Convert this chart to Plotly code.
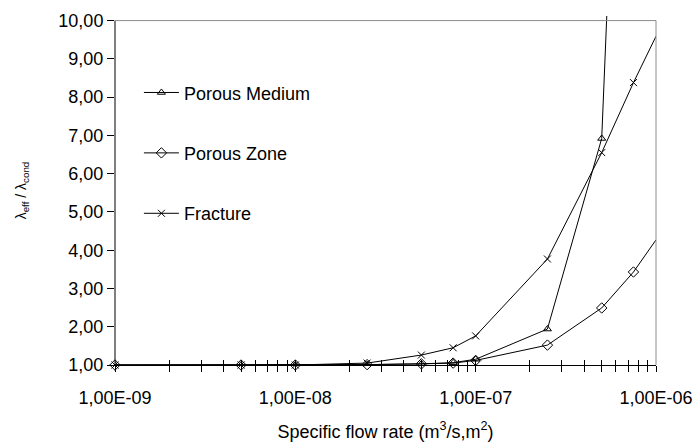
import plotly.graph_objects as go

# Specific flow rate (m3/s,m2) and effective/conductive conductivity ratio
flow_rate = [1e-9, 5e-9, 1e-8, 2.5e-8, 5e-8, 7.5e-8, 1e-7, 2.5e-7, 5e-7, 7.5e-7, 1e-6]

porous_medium_x = [1e-9, 5e-9, 1e-8, 2.5e-8, 5e-8, 7.5e-8, 1e-7, 2.5e-7, 5e-7, 7.5e-7]
porous_medium_y = [1.00, 1.00, 1.00, 1.01, 1.03, 1.06, 1.15, 1.94, 6.92, 27.0]

porous_zone_y = [1.00, 1.00, 1.00, 1.01, 1.03, 1.05, 1.12, 1.52, 2.49, 3.43, 4.27]
fracture_y = [1.00, 1.00, 1.00, 1.05, 1.26, 1.45, 1.76, 3.77, 6.55, 8.38, 9.59]

y_ticks = [1, 2, 3, 4, 5, 6, 7, 8, 9, 10]
y_tick_text = ["1,00", "2,00", "3,00", "4,00", "5,00", "6,00", "7,00", "8,00", "9,00", "10,00"]
decades = [-9, -8, -7]
decade_labels = ["1,00E-09", "1,00E-08", "1,00E-07", "1,00E-06"]

x_ticks, x_tick_text = [], []
for i, e in enumerate(decades):
    for k in range(1, 10):
        x_ticks.append(k * 10.0 ** e)
        x_tick_text.append(decade_labels[i] if k == 1 else "")
x_ticks.append(1e-6)
x_tick_text.append(decade_labels[-1])

FONT = "Liberation Sans, Arial, sans-serif"
line_style = dict(color="black", width=1)

fig = go.Figure()
fig.add_trace(go.Scatter(
    x=porous_medium_x, y=porous_medium_y, name="Porous Medium", mode="lines+markers",
    line=line_style, legendgroup="a",
    marker=dict(symbol="triangle-up-open", size=7, color="black", line=dict(width=1)),
    cliponaxis=True,
))
fig.add_trace(go.Scatter(
    x=flow_rate, y=porous_zone_y, name="Porous Zone", mode="lines+markers",
    line=line_style, legendgroup="b",
    marker=dict(symbol="diamond-open", size=8, color="black", line=dict(width=1)),
    cliponaxis=False,
))
fig.add_trace(go.Scatter(
    x=flow_rate, y=fracture_y, name="Fracture", mode="lines+markers",
    line=line_style, legendgroup="c",
    marker=dict(symbol="x-thin-open", size=7, color="black", line=dict(width=1)),
    cliponaxis=False,
))
# empty trace carrying the inner half of the crossing x ticks
fig.add_trace(go.Scatter(x=[], y=[], xaxis="x2", showlegend=False, hoverinfo="skip"))

fig.update_layout(
    width=699, height=442,
    margin=dict(l=115, r=43, t=16, b=77, autoexpand=False),
    paper_bgcolor="white", plot_bgcolor="white",
    font=dict(family=FONT, size=18, color="black"),
    showlegend=True,
    legend=dict(x=0.0442, y=0.833, xanchor="left", yanchor="top",
                bgcolor="rgba(0,0,0,0)", font=dict(size=18),
                tracegroupgap=34, itemwidth=35),
    xaxis=dict(
        type="log", range=[-9, -6], automargin=False,
        tickmode="array", tickvals=x_ticks, ticktext=x_tick_text,
        ticks="outside", ticklen=6, tickcolor="black", tickwidth=1,
        ticklabelstandoff=10,
        showline=True, linecolor="black", linewidth=1,
        showgrid=False, zeroline=False,
        tickfont=dict(size=18),
        title=dict(text="Specific flow rate (m<sup>3</sup>/s,m<sup>2</sup>)",
                   font=dict(size=18), standoff=22),
    ),
    xaxis2=dict(
        type="log", range=[-9, -6], overlaying="x", matches="x",
        tickmode="array", tickvals=x_ticks, ticktext=["" for _ in x_ticks],
        ticks="inside", ticklen=5, tickcolor="black", tickwidth=1,
        showline=False, showgrid=False, zeroline=False, side="bottom",
    ),
    yaxis=dict(
        range=[1, 10.12], automargin=False,
        tickmode="array", tickvals=y_ticks, ticktext=y_tick_text,
        ticks="outside", ticklen=7, tickcolor="black", tickwidth=1,
        showline=False, showgrid=False, zeroline=False,
        tickfont=dict(size=18),
        title=dict(text="λ<sub>eff</sub> / λ<sub>cond</sub>", font=dict(size=14), standoff=28),
    ),
    shapes=[
        dict(type="line", xref="x domain", yref="y", x0=0, x1=0, y0=1, y1=10,
             line=dict(color="black", width=1)),
        dict(type="line", xref="x domain", yref="y", x0=0, x1=1, y0=10, y1=10,
             line=dict(color="#8c8c8c", width=1)),
        dict(type="line", xref="x domain", yref="y", x0=1, x1=1, y0=1, y1=10,
             line=dict(color="#8c8c8c", width=1)),
    ],
)

fig.write_html("out.html")
